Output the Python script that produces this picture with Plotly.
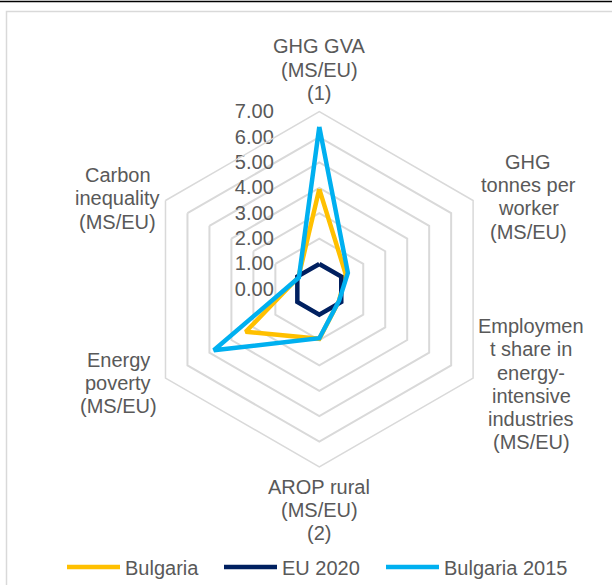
import plotly.graph_objects as go

categories = [
    "GHG GVA (MS/EU) (1)",
    "GHG tonnes per worker (MS/EU)",
    "Employment share in energy-intensive industries (MS/EU)",
    "AROP rural (MS/EU) (2)",
    "Energy poverty (MS/EU)",
    "Carbon inequality (MS/EU)",
]
category_lines = [
    ["GHG GVA", "(MS/EU)", "(1)"],
    ["GHG", "tonnes per", "worker", "(MS/EU)"],
    ["Employmen", "t share in", "energy-", "intensive", "industries", "(MS/EU)"],
    ["AROP rural", "(MS/EU)", "(2)"],
    ["Energy", "poverty", "(MS/EU)"],
    ["Carbon", "inequality", "(MS/EU)"],
]
bulgaria = [3.95, 1.2, 0.9, 1.95, 3.35, 0.95]
eu_2020 = [1.0, 1.0, 1.0, 1.0, 1.0, 1.0]
bulgaria_2015 = [6.4, 1.3, 0.9, 1.93, 4.8, 0.93]
series_names = ["Bulgaria", "EU 2020", "Bulgaria 2015"]
colors = ["#FFC000", "#002060", "#00B0F0"]
radial_ticks = [0, 1, 2, 3, 4, 5, 6, 7]

W, H = 612, 585
FONT = "Liberation Sans, Arial, sans-serif"
GREY = "#595959"
FS = 20

legend_ids = ["legend", "legend2", "legend3"]
legend_x_px = [62, 219, 381]

fig = go.Figure()
for name, vals, col, lg in zip(series_names, [bulgaria, eu_2020, bulgaria_2015], colors, legend_ids):
    fig.add_trace(go.Scatterpolar(
        r=vals + vals[:1],
        theta=categories + categories[:1],
        mode="lines",
        name=name,
        line=dict(color=col, width=4.5),
        hoverinfo="skip",
        legend=lg,
    ))

cx, cy, R = 319.3, 289.3, 177.6
layout_legends = {}
for lg, lx in zip(legend_ids, legend_x_px):
    layout_legends[lg] = dict(
        orientation="h", x=lx / W, xanchor="left", y=1 - 567 / H, yanchor="middle",
        font=dict(size=FS, color=GREY, family=FONT), itemwidth=53,
        bgcolor="rgba(0,0,0,0)", itemclick=False, itemdoubleclick=False,
    )

fig.update_layout(
    width=W, height=H,
    margin=dict(l=0, r=0, t=0, b=0, autoexpand=False),
    paper_bgcolor="white",
    plot_bgcolor="white",
    font=dict(family=FONT, size=FS, color=GREY),
    polar=dict(
        domain=dict(x=[(cx - R) / W, (cx + R) / W], y=[1 - (cy + R) / H, 1 - (cy - R) / H]),
        bgcolor="white",
        gridshape="linear",
        radialaxis=dict(
            range=[0, 7], tickvals=radial_ticks, tickformat=".2f",
            angle=90, tickangle=90, side="counterclockwise",
            showline=False, ticks="outside", ticklen=38, tickcolor="rgba(0,0,0,0)",
            gridcolor="#d9d9d9", gridwidth=1.5,
            tickfont=dict(size=FS, color=GREY, family=FONT),
            layer="below traces",
        ),
        angularaxis=dict(
            rotation=90, direction="clockwise",
            showticklabels=False, ticks="", showgrid=False,
            showline=True, linecolor="#d9d9d9", linewidth=1.5,
        ),
    ),
    showlegend=True,
    **layout_legends,
)

# Category labels around the radar, one annotation per line
label_centers = [(319, 69.5), (528, 196.7), (531, 384.2), (319, 510), (118, 383), (117.5, 198.3)]
LINE = 23.3
for lines, (x, y) in zip(category_lines, label_centers):
    n = len(lines)
    for i, line in enumerate(lines):
        yy = y + (i - (n - 1) / 2) * LINE
        fig.add_annotation(
            x=x / W, y=1 - yy / H, xref="paper", yref="paper", text=line,
            showarrow=False, xanchor="center", yanchor="middle", align="center",
            font=dict(size=FS, color=GREY, family=FONT),
        )

# chart frame
fig.add_shape(type="line", xref="paper", yref="paper", x0=0, x1=1, y0=1 - 1.5 / H, y1=1 - 1.5 / H,
              line=dict(color="black", width=1.5))
fig.add_shape(type="rect", xref="paper", yref="paper", x0=6.5 / W, x1=1.2, y0=-0.2, y1=1 - 11.5 / H,
              line=dict(color="#d9d9d9", width=1.5))

fig.write_html("out.html", post_script="document.body.style.margin='0';",
               config={"displayModeBar": False})
